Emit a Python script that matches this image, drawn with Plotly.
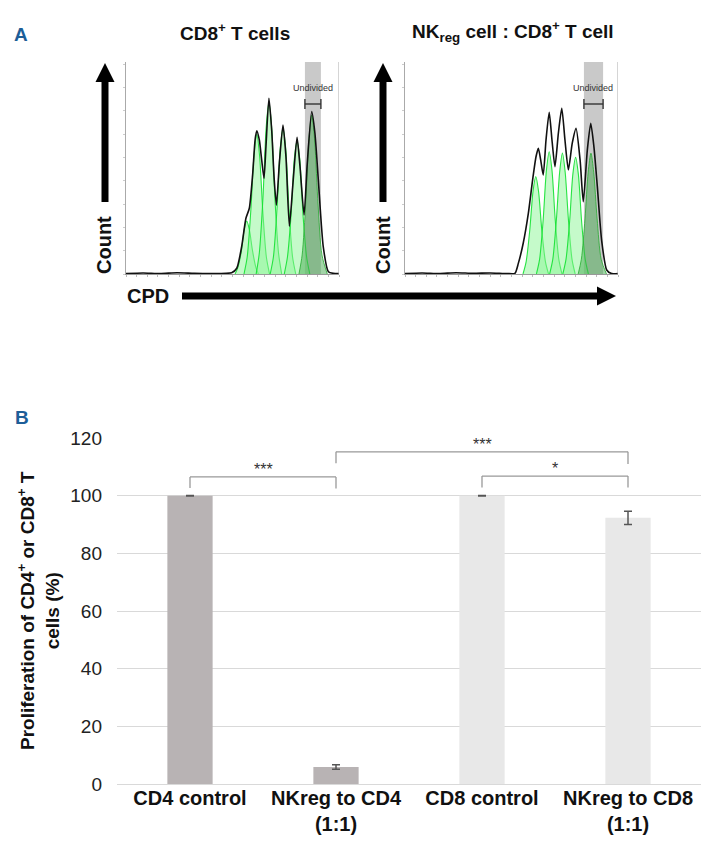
import plotly.graph_objects as go

W, H = 705, 850

# ---- panel A: CPD histograms (x = channel 0-100 across plot, y = count 0-100) ----
left_env_x = [0, 8, 16, 24, 32, 40, 49.6, 52.0, 54.3, 56.3, 57.9, 59.5, 60.6, 61.4, 62.6, 63.7,
              64.8, 65.7, 67.1, 68.4, 69.5, 70.6, 72.0, 73.7, 75.1, 76.7, 78.5, 80.3, 81.7,
              83.6, 85.1, 87.2, 88.7, 90.3, 92.6, 95.0, 97.3, 100]
left_env_y = [0.2, 0.5, 0.2, 0.6, 0.3, 0.2, 0.6, 2.7, 12.9, 26.3, 31, 47.5, 63.2, 67.6, 63.2, 53.8,
              45.1, 60, 82.9, 67.9, 45.9, 32.5, 52.2, 70.3, 55.3, 22.6, 44.3, 64.5, 50.6,
              27.8, 52.2, 76.6, 66.4, 44.3, 12.9, 1.1, 0.3, 0.2]

# one fitted peak per division generation
left_gens_x = [
    [51.2, 52.5, 54.2, 55.5, 56.7, 57.9, 59.4, 61.0, 62.2],
    [55.4, 56.9, 58.6, 60.1, 61.4, 62.7, 64.2, 65.9, 67.4],
    [61.1, 62.6, 64.3, 65.8, 67.1, 68.4, 69.9, 71.6, 73.1],
    [67.7, 69.2, 70.9, 72.4, 73.7, 75.0, 76.5, 78.2, 79.7],
    [74.3, 75.8, 77.5, 79.0, 80.3, 81.6, 83.1, 84.8, 86.3],
]
left_gens_y = [
    [0, 3, 11, 21, 25, 21, 11, 3, 0],
    [0, 8, 30, 56, 66, 56, 30, 8, 0],
    [0, 10, 36, 69, 81, 69, 36, 10, 0],
    [0, 8, 31, 59, 69, 59, 31, 8, 0],
    [0, 8, 28, 54, 63, 54, 28, 8, 0],
]
left_undiv_x = [81.2, 82.7, 84.4, 85.9, 87.2, 88.5, 90.1, 92.0, 94.5]
left_undiv_y = [0, 9, 34, 64, 75, 64, 34, 9, 0]

right_env_x = [0, 8, 16, 24, 32, 40, 48, 51.6, 53.2, 55.5, 57.9, 59.9, 61.5, 62.6, 63.7, 64.9,
               66.2, 67.7, 69.0, 70.4, 72.0, 73.6, 75.1, 76.7, 78.5, 80.3, 82.2, 83.7, 85.6,
               87.2, 88.7, 90.3, 92.3, 94.7, 97.0, 100]
right_env_y = [0.2, 0.5, 0.2, 0.6, 0.3, 0.5, 0.2, 0.3, 5, 14.5, 28.6, 44.3, 55.3, 59.3, 53.8, 46.7,
               63.2, 76.3, 63.2, 50.6, 66.4, 78.2, 63.2, 49.1, 61.6, 68.7, 53.8, 34.1, 58.5,
               71.1, 60, 41.2, 16, 1.9, 0.2, 0.2]

right_gens_x = [
    [55.4, 56.9, 58.6, 60.1, 61.4, 62.7, 64.2, 65.9, 67.4],
    [61.7, 63.2, 64.9, 66.4, 67.7, 69.0, 70.5, 72.2, 73.7],
    [67.9, 69.4, 71.1, 72.6, 73.9, 75.2, 76.7, 78.4, 79.9],
    [74.1, 75.6, 77.3, 78.8, 80.1, 81.4, 82.9, 84.6, 86.1],
]
right_gens_y = [
    [0, 6, 21, 39, 46, 39, 21, 6, 0],
    [0, 7, 26, 49, 57.7, 49, 26, 7, 0],
    [0, 7, 26, 48, 57, 48, 26, 7, 0],
    [0, 7, 25, 47, 55, 47, 25, 7, 0],
]
right_undiv_x = [81.3, 82.8, 84.5, 86.0, 87.3, 88.6, 90.2, 92.1, 94.6]
right_undiv_y = [0, 7, 26, 48, 57, 48, 26, 7, 0]

# undivided gate (x range) per panel
left_gate = [84.0, 91.5]
right_gate = [84.0, 93.0]

# ---- panel B: bar chart ----
categories = ["CD4 control", "NKreg to CD4<br>(1:1)", "CD8 control", "NKreg to CD8<br>(1:1)"]
proliferation = [100, 5.9, 100, 92.3]
prolif_err = [0.1, 0.8, 0.1, 2.3]
bar_colors = ["#b8b3b4", "#b8b3b4", "#e8e8e8", "#e8e8e8"]

sig_left = [0, 1, 2]
sig_right = [1, 3, 3]
sig_top = [106.5, 115.2, 106.8]
sig_foot_left = [102.7, 111.2, 102.8]
sig_foot_right = [102.5, 111.0, 102.8]
sig_label = ["***", "***", "*"]

FONT = "Arial, Liberation Sans, sans-serif"


def px(x):
    return x / W


def py(y):
    return 1 - y / H


fig = go.Figure()

GEN_FILL = "rgba(140,245,150,0.5)"
GEN_LINE = "rgba(20,225,50,0.9)"
UNDIV_FILL = "rgba(70,170,80,0.5)"


def add_hist(xa, ya, gens_x, gens_y, und_x, und_y, env_x, env_y):
    for gx, gy in zip(gens_x, gens_y):
        fig.add_trace(go.Scatter(x=gx, y=gy, xaxis=xa, yaxis=ya, mode="lines",
                                 line=dict(color=GEN_LINE, width=1.1, shape="spline", smoothing=0.8),
                                 fill="tozeroy", fillcolor=GEN_FILL, hoverinfo="skip"))
    fig.add_trace(go.Scatter(x=und_x, y=und_y, xaxis=xa, yaxis=ya, mode="lines",
                             line=dict(color="rgba(40,170,50,0.8)", width=1, shape="spline", smoothing=0.8),
                             fill="tozeroy", fillcolor=UNDIV_FILL, hoverinfo="skip"))
    fig.add_trace(go.Scatter(x=env_x, y=env_y, xaxis=xa, yaxis=ya, mode="lines",
                             line=dict(color="#111", width=1.6, shape="spline", smoothing=0.6),
                             hoverinfo="skip"))


add_hist("x", "y", left_gens_x, left_gens_y, left_undiv_x, left_undiv_y, left_env_x, left_env_y)
add_hist("x2", "y2", right_gens_x, right_gens_y, right_undiv_x, right_undiv_y, right_env_x, right_env_y)

fig.add_trace(go.Bar(x=categories, y=proliferation, xaxis="x3", yaxis="y3",
                     marker=dict(color=bar_colors, line=dict(width=0)),
                     error_y=dict(type="data", array=prolif_err, color="#555", thickness=1.5, width=4),
                     width=0.31, hoverinfo="skip"))

hist_x = dict(range=[0, 100], showgrid=False, zeroline=False, showticklabels=False,
              showline=True, linecolor="#999", linewidth=1, ticks="outside", ticklen=2,
              tickcolor="#bbb", dtick=5)
hist_y = dict(range=[0, 100], showgrid=False, zeroline=False, showticklabels=False,
              showline=True, linecolor="#aaa", linewidth=1, ticks="outside", ticklen=2,
              tickcolor="#ccc", dtick=11)

fig.update_layout(
    width=W, height=H, autosize=False,
    margin=dict(l=0, r=0, t=0, b=0, autoexpand=False),
    paper_bgcolor="white", plot_bgcolor="white",
    showlegend=False,
    font=dict(family=FONT, color="#222"),
    xaxis=dict(domain=[px(126), px(339)], anchor="y", **hist_x),
    yaxis=dict(domain=[py(274), py(62)], anchor="x", **hist_y),
    xaxis2=dict(domain=[px(405), px(618)], anchor="y2", **hist_x),
    yaxis2=dict(domain=[py(274), py(62)], anchor="x2", **hist_y),
    xaxis3=dict(domain=[px(117), px(701)], anchor="y3", type="category",
                showline=False, showgrid=False, ticks="",
                tickfont=dict(family=FONT, size=20, color="#111", weight="bold")),
    yaxis3=dict(domain=[py(784), py(438)], anchor="x3", range=[0, 120], dtick=20,
                showgrid=True, gridcolor="#d9d9d9", gridwidth=1.3,
                zeroline=True, zerolinecolor="#d9d9d9", zerolinewidth=1.3,
                showline=False, ticks="", ticklabelstandoff=14,
                tickfont=dict(family=FONT, size=19, color="#222")),
)

shapes = []
# undivided gate bands, right frame lines and gate markers
for xr, yr, gate in (("x", "y", left_gate), ("x2", "y2", right_gate)):
    shapes.append(dict(type="rect", xref=xr, yref=yr + " domain", x0=gate[0], x1=gate[1],
                       y0=0, y1=1, fillcolor="#c9c9c9", line=dict(width=0), layer="below"))
    shapes.append(dict(type="line", xref=xr, yref=yr + " domain", x0=100, x1=100, y0=0, y1=1,
                       line=dict(color="#aaa", width=1)))
    gy = (274 - 104) / 2.12
    shapes.append(dict(type="line", xref=xr, yref=yr, x0=gate[0], x1=gate[1], y0=gy, y1=gy,
                       line=dict(color="#333", width=1.4)))
    for gx in gate:
        shapes.append(dict(type="line", xref=xr, yref=yr, x0=gx, x1=gx, y0=gy - 2.3, y1=gy + 2.3,
                           line=dict(color="#333", width=1.4)))

# big arrows (Count / CPD)
for cx in (105, 383):
    shapes.append(dict(type="rect", xref="paper", yref="paper", x0=px(cx - 3.5), x1=px(cx + 3.5),
                       y0=py(202), y1=py(80), fillcolor="black", line=dict(width=0)))
    shapes.append(dict(type="path", xref="paper", yref="paper",
                       path=f"M {px(cx)} {py(63)} L {px(cx - 9.5)} {py(82)} L {px(cx + 9.5)} {py(82)} Z",
                       fillcolor="black", line=dict(width=0)))
shapes.append(dict(type="rect", xref="paper", yref="paper", x0=px(182), x1=px(599),
                   y0=py(299.5), y1=py(292.5), fillcolor="black", line=dict(width=0)))
shapes.append(dict(type="path", xref="paper", yref="paper",
                   path=f"M {px(616)} {py(296)} L {px(597)} {py(286.5)} L {px(597)} {py(305.5)} Z",
                   fillcolor="black", line=dict(width=0)))

# significance brackets
for a, b, top, fl, fr in zip(sig_left, sig_right, sig_top, sig_foot_left, sig_foot_right):
    br = dict(color="#999", width=1.3)
    shapes.append(dict(type="line", xref="x3", yref="y3", x0=a, x1=b, y0=top, y1=top, line=br))
    shapes.append(dict(type="line", xref="x3", yref="y3", x0=a, x1=a, y0=fl, y1=top, line=br))
    shapes.append(dict(type="line", xref="x3", yref="y3", x0=b, x1=b, y0=fr, y1=top, line=br))

fig.update_layout(shapes=shapes)

ann = []
bold = dict(family=FONT, color="#111", weight="bold")
ann.append(dict(text="A", x=px(21), y=py(35), font=dict(family=FONT, size=19, color="#1d5e98", weight="bold")))
ann.append(dict(text="B", x=px(22), y=py(417), font=dict(family=FONT, size=19, color="#1d5e98", weight="bold")))
ann.append(dict(text="CD8<sup>+</sup> T cells", x=px(235), y=py(32), font=dict(size=19, **bold)))
ann.append(dict(text="NK<sub>reg</sub> cell : CD8<sup>+</sup> T cell", x=px(513), y=py(32),
                font=dict(size=19, **bold)))
for cx in (104, 383):
    ann.append(dict(text="Count", x=px(cx), y=py(245), textangle=-90, font=dict(size=20, **bold)))
ann.append(dict(text="CPD", x=px(148), y=py(296), font=dict(size=20, **bold)))
for cx in (313, 593):
    ann.append(dict(text="Undivided", x=px(cx), y=py(88), font=dict(family=FONT, size=9, color="#333")))
ann.append(dict(text="Proliferation of CD4<sup>+</sup> or CD8<sup>+</sup> T<br>cells (%)",
                x=px(38), y=py(611), textangle=-90, font=dict(size=19, **bold)))
for a, b, top, lab in zip(sig_left, sig_right, sig_top, sig_label):
    ann.append(dict(text=lab, xref="x3", yref="y3", x=(a + b) / 2, y=top + 2.6,
                    font=dict(family=FONT, size=16, color="#333")))

for a in ann:
    a.setdefault("xref", "paper")
    a.setdefault("yref", "paper")
    a["showarrow"] = False
    a["xanchor"] = "center"
    a["yanchor"] = "middle"
fig.update_layout(annotations=ann)

# page body margin off so the 705x850 figure sits exactly in the window
fig.write_html("out.html", config={"displayModeBar": False},
               post_script="document.body.style.margin='0';"
                           "document.body.style.overflow='hidden';")
